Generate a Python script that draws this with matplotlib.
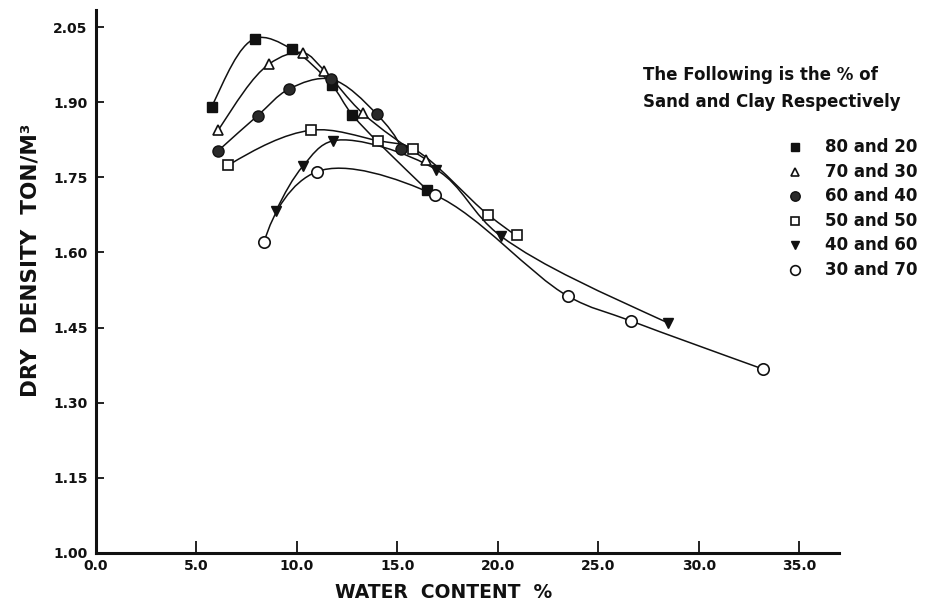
import matplotlib
matplotlib.use("Agg")
import matplotlib.pyplot as plt
import numpy as np
from matplotlib.path import Path
from matplotlib.patches import PathPatch
from matplotlib.lines import Line2D

plt.rcParams['font.family'] = ['DejaVu Sans']
plt.rcParams['font.weight'] = 'bold'

# ---------------- data ----------------
legend_title = ["The Following is the % of", "Sand and Clay Respectively"]
labels = ["80 and 20", "70 and 30", "60 and 40", "50 and 50", "40 and 60", "30 and 70"]

water_80_20 = [5.76, 7.91, 9.74, 11.74, 12.75, 16.47]
dens_80_20 = [1.891, 2.027, 2.006, 1.934, 1.875, 1.725]

water_70_30 = [6.08, 8.61, 10.30, 11.36, 13.27, 16.44]
dens_70_30 = [1.844, 1.976, 1.999, 1.963, 1.878, 1.785]

water_60_40 = [6.08, 8.04, 9.59, 11.69, 13.97, 15.20]
dens_60_40 = [1.803, 1.873, 1.926, 1.946, 1.876, 1.807]

water_50_50 = [6.58, 10.70, 14.04, 15.79, 19.52, 20.97]
dens_50_50 = [1.774, 1.844, 1.823, 1.807, 1.675, 1.635]

water_40_60 = [8.96, 10.31, 11.81, 16.94, 20.13, 28.48]
dens_40_60 = [1.683, 1.773, 1.823, 1.765, 1.633, 1.459]

water_30_70 = [8.37, 10.98, 16.85, 23.47, 26.64, 33.20]
dens_30_70 = [1.621, 1.761, 1.715, 1.513, 1.463, 1.367]

x_ticks = [0, 5, 10, 15, 20, 25, 30, 35]
x_tick_labels = ["0.0", "5.0", "10.0", "15.0", "20.0", "25.0", "30.0", "35.0"]
y_ticks = [1.00, 1.15, 1.30, 1.45, 1.60, 1.75, 1.90, 2.05]
y_tick_labels = ["1.00", "1.15", "1.30", "1.45", "1.60", "1.75", "1.90", "2.05"]

series = [
    (water_80_20, dens_80_20),
    (water_70_30, dens_70_30),
    (water_60_40, dens_60_40),
    (water_50_50, dens_50_50),
    (water_40_60, dens_40_60),
    (water_30_70, dens_30_70),
]

INK = "#111111"
styles = [
    dict(marker="s", ms=6.8, mfc=INK, mec=INK, mew=1.0),
    dict(marker="^", ms=7.2, mfc="white", mec=INK, mew=1.2),
    dict(marker="o", ms=8.0, mfc="#2a2a2a", mec=INK, mew=1.0),
    dict(marker="s", ms=7.0, mfc="white", mec=INK, mew=1.2),
    dict(marker="v", ms=7.2, mfc=INK, mec=INK, mew=1.0),
    dict(marker="o", ms=8.2, mfc="white", mec=INK, mew=1.2),
]

XLIM = (0, 36.97)
YLIM = (1.00, 2.084)
W, H = 935, 605
AX_L, AX_R, AX_T, AX_B = 96, 839, 10, 553


def smooth_path(xs, ys):
    """Centripetal Catmull-Rom curve through the points, as a Bezier Path
    in data coordinates (computed in an isotropic screen-like space)."""
    sx = (AX_R - AX_L) / (XLIM[1] - XLIM[0])
    sy = (AX_B - AX_T) / (YLIM[1] - YLIM[0])
    P = np.column_stack([np.asarray(xs) * sx, np.asarray(ys) * sy])
    first = 3 * P[0] - 3 * P[1] + P[2]
    last = 3 * P[-1] - 3 * P[-2] + P[-3]
    Q = np.vstack([first, P, last])
    verts = [P[0]]
    codes = [Path.MOVETO]
    for i in range(1, len(Q) - 2):
        p0, p1, p2, p3 = Q[i - 1], Q[i], Q[i + 1], Q[i + 2]
        d1 = np.linalg.norm(p1 - p0) ** 0.5
        d2 = np.linalg.norm(p2 - p1) ** 0.5
        d3 = np.linalg.norm(p3 - p2) ** 0.5
        b1 = (d1 ** 2 * p2 - d2 ** 2 * p0 + (2 * d1 ** 2 + 3 * d1 * d2 + d2 ** 2) * p1) / (3 * d1 * (d1 + d2))
        b2 = (d3 ** 2 * p1 - d2 ** 2 * p3 + (2 * d3 ** 2 + 3 * d3 * d2 + d2 ** 2) * p2) / (3 * d3 * (d3 + d2))
        verts += [b1, b2, p2]
        codes += [Path.CURVE4] * 3
    V = np.array(verts)
    V[:, 0] /= sx
    V[:, 1] /= sy
    return Path(V, codes)


# ---------------- figure ----------------
fig = plt.figure(figsize=(W / 100, H / 100), dpi=100)
ax = fig.add_axes([AX_L / W, (H - AX_B) / H, (AX_R - AX_L) / W, (AX_B - AX_T) / H])

for (xs, ys), st in zip(series, styles):
    ax.add_patch(PathPatch(smooth_path(xs, ys), facecolor="none",
                           edgecolor=INK, lw=1.1, zorder=2))
    ax.plot(xs, ys, linestyle="none", zorder=3, **st)

ax.set_xlim(*XLIM)
ax.set_ylim(*YLIM)

for s in ["top", "right"]:
    ax.spines[s].set_visible(False)
for s in ["left", "bottom"]:
    ax.spines[s].set_linewidth(2.2)
    ax.spines[s].set_color(INK)

ax.set_xticks(x_ticks)
ax.set_xticklabels(x_tick_labels)
ax.set_yticks(y_ticks)
ax.set_yticklabels(y_tick_labels)
ax.tick_params(axis="x", direction="in", length=9, width=1.3, pad=4,
               labelsize=10, colors=INK)
ax.tick_params(axis="y", direction="in", length=6, width=1.3, pad=6,
               labelsize=10, colors=INK)
for lab in ax.get_xticklabels() + ax.get_yticklabels():
    lab.set_fontweight("bold")

ax.set_xlabel("WATER  CONTENT  %", fontsize=13.5, fontweight="bold", color=INK)
ax.xaxis.set_label_coords((444 - AX_L) / (AX_R - AX_L), (AX_B - 592) / (AX_B - AX_T))
ax.xaxis.label.set_verticalalignment("center")

ax.set_ylabel("DRY  DENSITY  TON/M\u00b3", fontsize=15.5, fontweight="bold", color=INK)
ax.yaxis.set_label_coords((31 - AX_L) / (AX_R - AX_L), (AX_B - 260) / (AX_B - AX_T))
ax.yaxis.label.set_verticalalignment("center")

# ---------------- legend (drawn manually) ----------------
fig.text(643 / W, 1 - 75 / H, legend_title[0], fontsize=12, fontweight="bold",
         ha="left", va="center", color=INK)
fig.text(643 / W, 1 - 102 / H, legend_title[1], fontsize=12, fontweight="bold",
         ha="left", va="center", color=INK)

for i, (lab, st) in enumerate(zip(labels, styles)):
    yy = 1 - (147 + i * 24.6) / H
    st2 = dict(st)
    st2["ms"] = st["ms"] * 0.85
    fig.add_artist(Line2D([795 / W], [yy], transform=fig.transFigure,
                          linestyle="none", **st2))
    fig.text(825 / W, yy, lab, fontsize=12, fontweight="bold",
             ha="left", va="center", color=INK)

fig.savefig("out.png", dpi=100, facecolor="white")
